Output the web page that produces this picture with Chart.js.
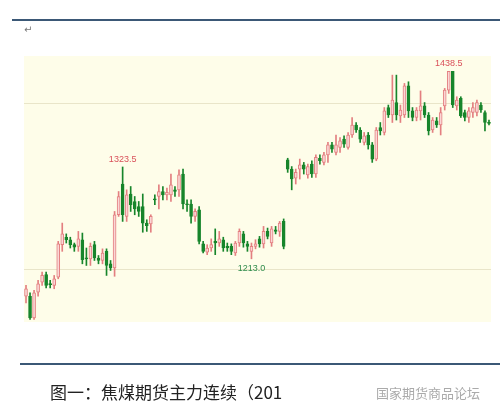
<!DOCTYPE html>
<html>
<head>
<meta charset="utf-8">
<script src="https://cdn.jsdelivr.net/npm/chart.js@4.4.0/dist/chart.umd.min.js"></script>
<style>
  html, body { margin: 0; padding: 0; background: #fff; }
  #wrap { width: 500px; height: 420px; }
</style>
</head>
<body>
<div id="wrap"><canvas id="kline"></canvas></div>
<script>
// daily candles, coking coal main contract, first half of 2013
const opens  = [1168,1168,1142,1173,1185,1194,1183,1181,1191,1230,1239,1236,1230,1228,1236,1214,1213,1230,1214,1211,1222,1207,1202,1266,1303,
  1264,1291,1282,1276,1276,1256,1255,1285,1288,1294,1290,1290,1296,1296,1315,1279,1279,1264,1272,1231,1221,1226,1234,1232,1236,1228,1228,1220,1232,1243,1231,
  1222,1228,1237,1231,1246,1232,1248,1246,1258,
  1332,1321,1310,1321,1326,1314,1327,1315,1334,1329,1338,1350,1341,1347,1357,1347,1362,1374,1368,1353,1362,1350,1333,1371,1365,1395,1386,1401,1385,1386,
  1421,1391,1383,1391,1397,1386,1368,1379,1374,1397,1416,1438.5,1397,1406,1389,1383,1389,1389,1398,1389,1377];
const closes = [1177,1142,1172,1183,1193,1181,1182,1189,1231,1243,1236,1230,1227,1237,1212,1213,1228,1214,1211,1220,1205,1202,1266,1288,1266,
  1290,1278,1273,1270,1256,1253,1264,1284,1294,1290,1293,1302,1294,1314,1279,1278,1264,1270,1234,1222,1226,1230,1232,1237,1226,1226,1222,1232,1246,1232,1228,
  1228,1231,1231,1246,1240,1249,1246,1256,1228,
  1321,1309,1317,1326,1321,1324,1315,1335,1331,1338,1350,1345,1350,1355,1351,1362,1374,1368,1357,1361,1350,1333,1368,1367,1391,1386,1404,1386,1392,1421,
  1391,1383,1392,1397,1386,1367,1380,1374,1389,1416,1438.5,1398,1404,1385,1383,1391,1395,1401,1392,1377,1376];
const highs  = [1181,1172,1175,1187,1197,1197,1187,1193,1234,1256,1243,1239,1232,1246,1244,1226,1232,1234,1217,1225,1225,1211,1270,1294,1323.5,
  1296,1300,1288,1282,1291,1260,1266,1290,1302,1300,1298,1315,1300,1320,1321,1284,1284,1273,1276,1234,1230,1237,1249,1246,1239,1232,1231,1234,1249,1246,1234,
  1232,1236,1240,1252,1250,1252,1252,1258,1261,
  1334,1324,1321,1333,1329,1327,1331,1338,1338,1341,1353,1353,1362,1359,1361,1365,1383,1377,1371,1365,1365,1353,1371,1377,1395,1398,1434,1434,1398,1424,
  1426,1395,1395,1415,1401,1389,1383,1383,1395,1418,1438.5,1438.5,1408,1408,1392,1395,1401,1404,1401,1391,1380];
const lows   = [1160,1140,1140,1168,1181,1178,1178,1177,1189,1222,1232,1226,1222,1222,1207,1205,1205,1211,1207,1207,1193,1199,1192,1264,1258,
  1258,1270,1266,1264,1245,1246,1245,1278,1273,1284,1284,1282,1288,1288,1273,1270,1256,1258,1231,1220,1218,1222,1218,1228,1222,1222,1218,1217,1228,1227,1222,
  1213,1225,1227,1226,1237,1228,1243,1240,1225,
  1317,1296,1303,1309,1315,1310,1311,1311,1327,1326,1329,1341,1338,1341,1347,1345,1359,1365,1353,1350,1345,1329,1331,1362,1362,1383,1377,1380,1377,1383,
  1383,1379,1379,1380,1383,1362,1365,1371,1362,1392,1412,1395,1392,1383,1379,1377,1383,1385,1389,1367,1374];
const gridLevels = [1200, 1400];
// marked extremes: [candle index, price, above/below]
const marks = [[24, 1323.5, 'top'], [56, 1213.0, 'bottom'], [105, 1438.5, 'top']];

const labels = opens.map((v, i) => i + 1);
const isUp = opens.map((o, i) => closes[i] >= o);
const bodyFill = isUp.map(u => u ? '#fad7d5' : '#17852b');
const edgeColor = isUp.map(u => u ? '#e37f80' : '#17852b');

const frame = {
  id: 'frame',
  beforeDraw(chart) {
    const { ctx, chartArea: a } = chart;
    ctx.save();
    ctx.fillStyle = '#fefde9';
    ctx.fillRect(a.left, a.top, a.right - a.left, a.bottom - a.top);
    ctx.strokeStyle = '#3b5876';
    ctx.lineWidth = 2;
    ctx.beginPath(); ctx.moveTo(12, 20); ctx.lineTo(500, 20); ctx.stroke();
    ctx.beginPath(); ctx.moveTo(20, 364); ctx.lineTo(500, 364); ctx.stroke();
    ctx.fillStyle = '#777';
    ctx.font = '10px "DejaVu Sans"';
    ctx.fillText('↵', 24, 33);
    ctx.restore();
  },
  afterDraw(chart) {
    const { ctx } = chart;
    const x = chart.scales.x, y = chart.scales.y;
    ctx.save();
    ctx.font = '9px "Liberation Sans"';
    ctx.textAlign = 'center';
    marks.forEach(([i, p, pos]) => {
      const px = x.getPixelForValue(i);
      if (pos === 'top') {
        ctx.fillStyle = '#d9505a';
        ctx.fillText(p.toFixed(1), px, y.getPixelForValue(highs[i]) - 5);
      } else {
        ctx.fillStyle = '#2e8b4a';
        ctx.fillText(p.toFixed(1), px, y.getPixelForValue(lows[i]) + 12);
      }
    });
    ctx.textAlign = 'left';
    ctx.fillStyle = '#222';
    ctx.font = '17px "Noto Sans CJK SC"';
    ctx.fillText('图一：焦煤期货主力连续（201', 50, 399);
    ctx.fillStyle = '#aaa';
    ctx.font = '13px "Noto Sans CJK SC"';
    ctx.fillText('国家期货商品论坛', 376, 398);
    ctx.restore();
  }
};

new Chart(document.getElementById('kline'), {
  type: 'bar',
  data: {
    labels: labels,
    datasets: [{
      data: lows.map((l, i) => [l, highs[i]]),
      backgroundColor: edgeColor,
      barThickness: 1,
      grouped: false,
      order: 2
    }, {
      data: opens.map((o, i) => [o, closes[i]]),
      backgroundColor: bodyFill,
      borderColor: edgeColor,
      borderWidth: 1,
      borderSkipped: false,
      barThickness: 3,
      minBarLength: 1,
      grouped: false,
      order: 1
    }]
  },
  options: {
    responsive: true,
    maintainAspectRatio: false,
    animation: false,
    layout: { padding: { left: 24, right: 9, top: 56, bottom: 98 } },
    scales: {
      x: { display: false, offset: true },
      y: {
        min: 1137,
        max: 1457,
        afterBuildTicks: s => { s.ticks = gridLevels.map(v => ({ value: v })); },
        afterFit: s => { s.width = 0; },
        ticks: { display: false },
        border: { display: false },
        grid: { color: '#e9e5c9', drawTicks: false }
      }
    },
    plugins: { legend: { display: false }, tooltip: { enabled: false } }
  },
  plugins: [frame]
});
</script>
</body>
</html>
